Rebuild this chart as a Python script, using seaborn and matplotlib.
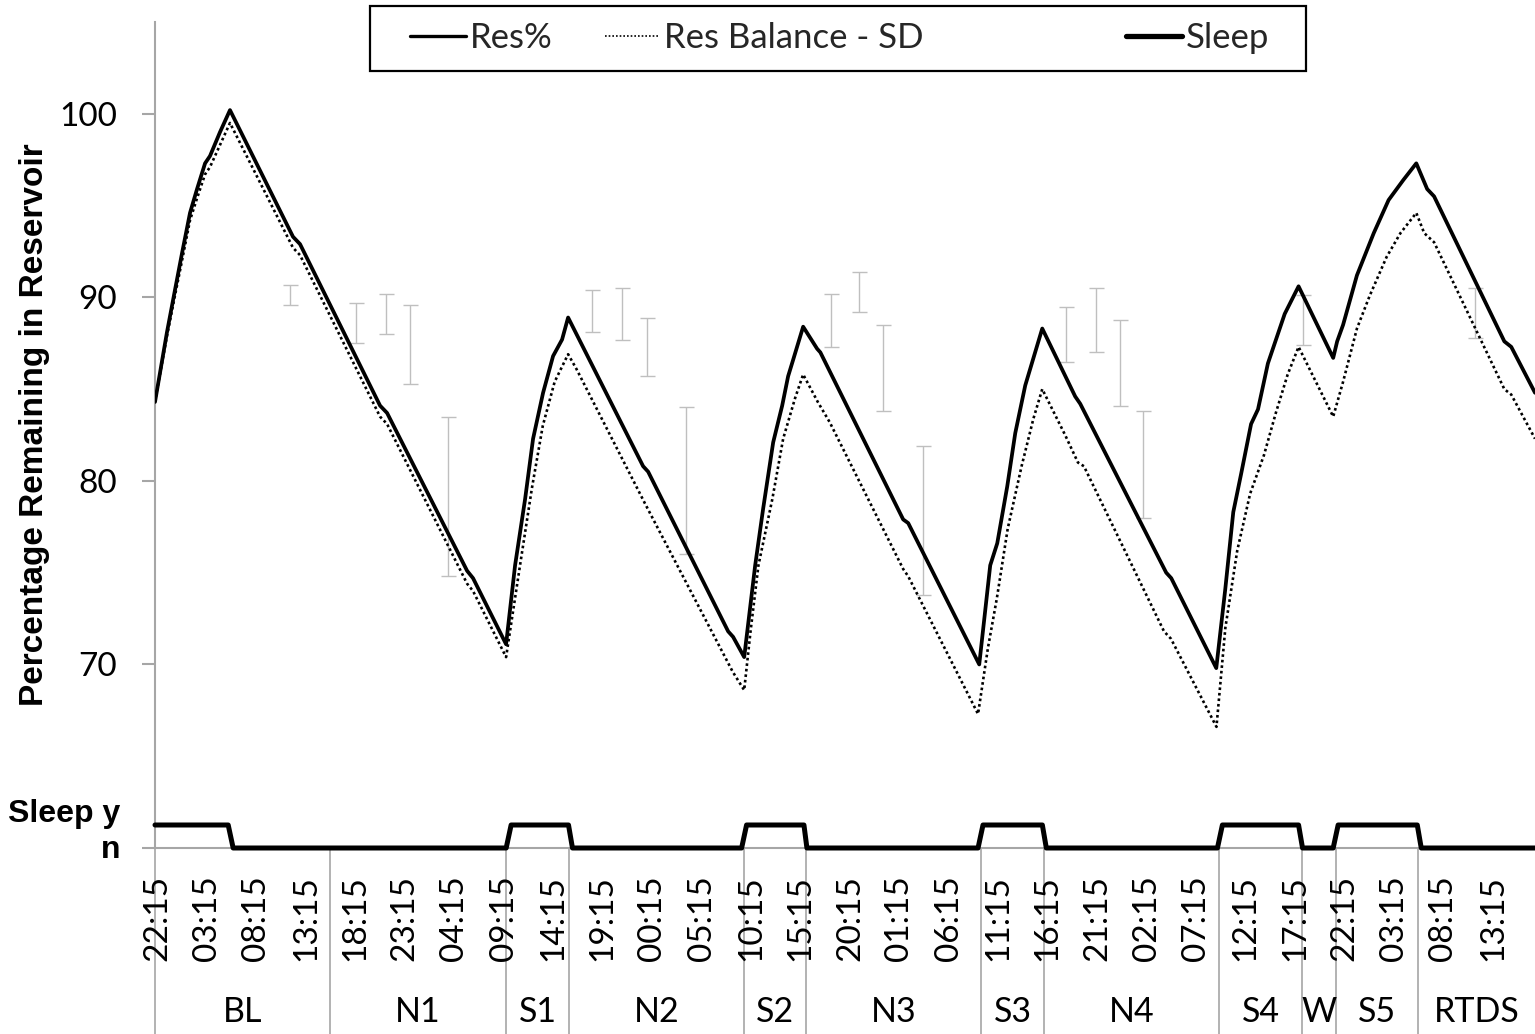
import matplotlib
matplotlib.use("Agg")
import matplotlib.pyplot as plt
import matplotlib.transforms as mtransforms
from matplotlib.lines import Line2D
from matplotlib.patches import Rectangle
import numpy as np
import pandas as pd
import seaborn as sns

# ---- data (x = hours since 22:00 on the baseline evening) ----
res_hours = [0.00, 1.21, 2.02, 2.73, 3.54, 4.25, 5.06, 5.56, 6.57, 7.58,
             13.95, 14.66, 22.75, 23.46, 31.55, 32.15, 35.49,
             36.40, 37.41, 38.22, 39.23, 40.24, 41.15, 41.76,
             49.34, 49.85, 57.94, 58.44, 59.56,
             60.67, 61.48, 62.49, 63.40, 64.00, 64.51, 65.52,
             66.93, 67.26, 75.63, 76.14, 83.32,
             84.43, 85.14, 86.15, 86.96, 87.97, 89.69,
             93.02, 93.53, 102.22, 102.73, 107.28,
             108.19, 109.0, 109.8, 110.8, 111.5, 112.5, 114.2, 115.6,
             119.1,
             119.5, 120.1, 121.5, 123.2, 124.7, 126.2, 127.5,
             128.6, 129.3, 136.4, 137.1, 139.5]
res_pct = [84.3, 88.1, 90.4, 92.4, 94.6, 95.9, 97.3, 97.7, 99.0, 100.2,
           93.3, 92.9, 84.1, 83.7, 75.1, 74.7, 71.1,
           75.4, 79.0, 82.3, 84.8, 86.8, 87.7, 88.9,
           80.8, 80.5, 71.8, 71.5, 70.4,
           75.4, 78.5, 82.1, 84.1, 85.7, 86.6, 88.4,
           87.2, 87.0, 77.9, 77.7, 70.0,
           75.4, 76.6, 79.7, 82.6, 85.2, 88.3,
           84.6, 84.2, 75.0, 74.7, 69.8,
           74.1, 78.3, 80.4, 83.1, 83.9, 86.4, 89.1, 90.6,
           86.7,
           87.6, 88.5, 91.2, 93.5, 95.3, 96.4, 97.3,
           95.9, 95.5, 87.6, 87.3, 84.8]

sd_hours = [0.00, 1.21, 2.02, 2.73, 3.54, 4.25, 5.06, 5.56, 6.57, 7.58,
            13.95, 14.66, 22.75, 23.46, 31.55, 32.15, 35.49,
            36.9, 38.1, 39.2, 40.4, 41.76,
            42.6, 49.5, 58.4, 59.56,
            60.2, 61.0, 62.4, 63.5, 64.7, 65.52,
            67.0, 68.2, 75.63, 76.14, 83.2,
            84.2, 85.1, 86.2, 87.6, 88.8, 89.69,
            92.0, 93.3, 93.9, 102.0, 102.7, 107.3,
            108.2, 109.4, 110.7, 112.1, 113.3, 114.5, 115.6,
            119.1,
            120.1, 121.5, 122.8, 124.5, 125.9, 127.5,
            128.3, 129.3, 136.4, 137.1, 139.5]
sd_pct = [84.3, 87.9, 90.1, 92.0, 94.2, 95.4, 96.7, 97.1, 98.3, 99.5,
          92.7, 92.3, 83.5, 83.1, 74.4, 74.0, 70.4,
          75.4, 79.6, 83.0, 85.4, 86.9,
          86.1, 78.8, 69.6, 68.6,
          71.8, 75.4, 79.0, 82.3, 84.5, 85.8,
          84.3, 83.2, 75.2, 74.8, 67.3,
          70.9, 73.6, 77.4, 80.8, 83.4, 85.0,
          82.5, 81.0, 80.8, 71.8, 71.4, 66.6,
          72.0, 76.2, 79.3, 81.4, 83.7, 85.8, 87.3,
          83.5,
          85.4, 88.3, 90.1, 92.2, 93.5, 94.6,
          93.5, 93.0, 85.0, 84.7, 82.3]

sleep_hours = [0, 7.4, 7.9, 35.5, 36.0, 41.8, 42.2, 59.3, 59.8, 65.6, 65.9,
               83.2, 83.7, 89.7, 90.1, 107.4, 107.9, 115.6, 116.0,
               119.1, 119.6, 127.6, 128.0, 139.5]
sleep_state = [1, 1, 0, 0, 1, 1, 0, 0, 1, 1, 0,
               0, 1, 1, 0, 0, 1, 1, 0,
               0, 1, 1, 0, 0]

err_hours = [13.65, 20.32, 23.36, 25.78, 29.63, 44.19, 47.22, 49.75, 53.69,
             68.35, 71.18, 73.61, 77.65, 92.06, 95.15, 97.57, 99.9, 116.0, 133.4]
err_low = [89.6, 87.5, 88.0, 85.3, 74.8, 88.1, 87.7, 85.7, 76.0,
           87.3, 89.2, 83.8, 73.8, 86.5, 87.0, 84.1, 78.0, 87.4, 87.8]
err_high = [90.65, 89.7, 90.2, 89.6, 83.5, 90.4, 90.5, 88.9, 84.0,
            90.2, 91.4, 88.5, 81.9, 89.5, 90.5, 88.75, 83.8, 90.1, 90.5]

tick_labels = ["22:15", "03:15", "08:15", "13:15", "18:15", "23:15", "04:15",
               "09:15", "14:15", "19:15", "00:15", "05:15", "10:15", "15:15",
               "20:15", "01:15", "06:15", "11:15", "16:15", "21:15", "02:15",
               "07:15", "12:15", "17:15", "22:15", "03:15", "08:15", "13:15"]

group_names = ["BL", "N1", "S1", "N2", "S2", "N3", "S3", "N4", "S4", "W", "S5", "RTDS"]
group_edges = [0, 17.7, 35.5, 41.9, 59.5, 65.8, 83.5, 89.9, 107.6, 115.9,
               119.4, 127.7, 139.5]

# ---- styling ----
sns.set_theme(style="white")
plt.rcParams["font.family"] = ["Lato", "DejaVu Sans"]
AXIS_GREY = "#A6A6A6"
BOLD_FONT = ["Liberation Sans", "DejaVu Sans"]

W, H = 1535, 1034
fig = plt.figure(figsize=(W / 100, H / 100), dpi=100)
ax = fig.add_axes([155 / W, (H - 848) / H, (W - 155) / W, (848 - 22) / H])
x_max = group_edges[-1]

# error bars behind the curves
lo = np.array(err_low)
hi = np.array(err_high)
ax.errorbar(err_hours, (lo + hi) / 2, yerr=(hi - lo) / 2, fmt="none",
            ecolor="#BFBFBF", elinewidth=1.0, capsize=5.4, capthick=1.0, zorder=1)

sd_df = pd.DataFrame({"hour": sd_hours, "pct": sd_pct})
res_df = pd.DataFrame({"hour": res_hours, "pct": res_pct})
sns.lineplot(data=sd_df, x="hour", y="pct", ax=ax, color="black", linewidth=1.9,
             linestyle=(0, (1, 1.1)), sort=False, estimator=None, zorder=2)
sns.lineplot(data=res_df, x="hour", y="pct", ax=ax, color="black", linewidth=2.7,
             sort=False, estimator=None, zorder=3)

ax.set_xlim(0, x_max)
ax.set_ylim(60, 105)
ax.set_xlabel("")

# y axis
ax.set_yticks([60, 70, 80, 90, 100])
ax.set_yticklabels(["", "70", "80", "90", "100"])
ax.tick_params(axis="y", left=True, length=9.4, width=1.5, color=AXIS_GREY,
               pad=18, labelsize=24, labelcolor="black")
ax.set_ylabel("Percentage Remaining in Reservoir", fontsize=24, fontweight="bold",
              fontfamily=BOLD_FONT, color="black")
ax.yaxis.set_label_coords((50 - 155) / (W - 155), (848 - 425) / 826)

# x axis (clock times)
ax.set_xticks(np.arange(0.25, x_max, 5.0)[:len(tick_labels)])
ax.set_xticklabels(tick_labels)
ax.tick_params(axis="x", bottom=False, length=0, pad=19.5, labelsize=24,
               labelrotation=90, labelcolor="black")

for s in ["top", "right"]:
    ax.spines[s].set_visible(False)
for s in ["left", "bottom"]:
    ax.spines[s].set_color(AXIS_GREY)
    ax.spines[s].set_linewidth(1.5)

# phase separators and phase names below the clock times
trans = mtransforms.blended_transform_factory(ax.transData, ax.transAxes)
for e in group_edges[:-1]:
    ax.plot([e, e], [0, -0.24], transform=trans, color=AXIS_GREY, lw=1.2,
            clip_on=False, zorder=0)
for name, a, b in zip(group_names, group_edges[:-1], group_edges[1:]):
    ax.text((a + b) / 2, (848 - 1012) / 826, name, transform=trans,
            ha="center", va="center", fontsize=24.5, color="black")

# sleep / wake state on its own scale along the bottom
ax2 = ax.twinx()
ax2.set_ylim(0, 826 / 23)
sns.lineplot(x=sleep_hours, y=sleep_state, ax=ax2, color="black", linewidth=3.6,
             sort=False, estimator=None, clip_on=False)
ax2.set_xlim(0, x_max)
ax2.set_axis_off()

fig.text(120 / W, 1 - 822 / H, "Sleep y", ha="right", va="baseline", fontsize=23,
         fontweight="bold", fontfamily=BOLD_FONT, color="black")
fig.text(120 / W, 1 - 858 / H, "n", ha="right", va="baseline", fontsize=23,
         fontweight="bold", fontfamily=BOLD_FONT, color="black")

# legend
h_res = Line2D([], [], color="black", lw=2.4)
h_sd = Line2D([], [], color="black", lw=1.2, linestyle=(0, (1, 1.2)))
h_sleep = Line2D([], [], color="black", lw=3.8, solid_capstyle="round")
leg_kw = dict(loc="center left", frameon=False, fontsize=25, handlelength=1.6,
              handletextpad=0.12, borderpad=0, borderaxespad=0)
fig.legend([h_res, h_sd], ["Res%", "Res Balance - SD"], ncol=2, columnspacing=1.5,
           bbox_to_anchor=(410 / W, 1 - 38 / H), **leg_kw)
fig.legend([h_sleep], ["Sleep"], bbox_to_anchor=(1126 / W, 1 - 38 / H), **leg_kw)
fig.add_artist(Rectangle((370 / W, 1 - 71 / H), (1306 - 370) / W, (71 - 6) / H,
                         transform=fig.transFigure, fill=False, edgecolor="black",
                         lw=1.6))

fig.savefig("out.png", dpi=100)
